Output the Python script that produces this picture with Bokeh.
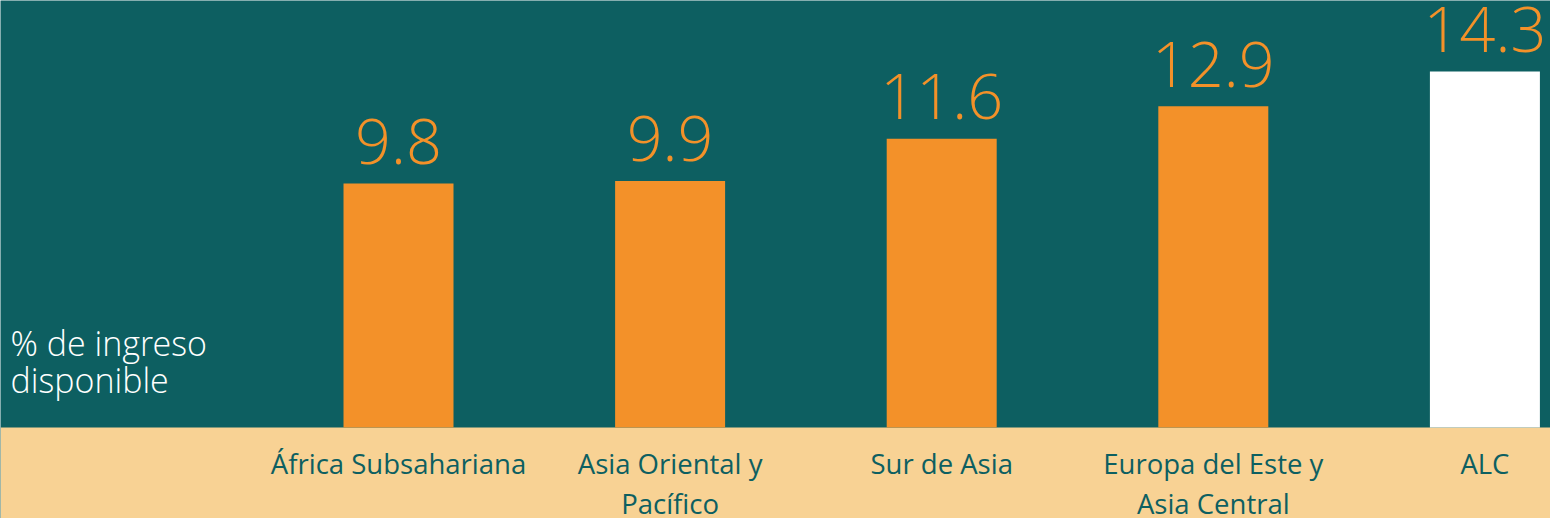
from bokeh.plotting import figure
from bokeh.models import Range1d, BoxAnnotation, ColumnDataSource, Label
from bokeh.embed import file_html
from bokeh.resources import INLINE
from bokeh.core.properties import value

categories = ["África Subsahariana", "Asia Oriental y\nPacífico", "Sur de Asia",
              "Europa del Este y\nAsia Central", "ALC"]
values = [9.8, 9.9, 11.6, 12.9, 14.3]
value_labels = ["9.8", "9.9", "11.6", "12.9", "14.3"]
bar_colors = ["#f39129", "#f39129", "#f39129", "#f39129", "#ffffff"]

TEAL = "#0d5f61"
PEACH = "#f8d294"
ORANGE = "#f39129"

xs = list(range(len(categories)))
src = ColumnDataSource(dict(x=xs, top=values, color=bar_colors, lab=value_labels,
                            cat=categories, cy=[-0.72] * len(xs)))

p = figure(width=1550, height=518, output_backend="svg", toolbar_location=None,
           x_range=Range1d(-1.4654, 4.2415), y_range=Range1d(-3.655, 17.149),
           min_border=0, background_fill_color=TEAL, border_fill_color=TEAL,
           outline_line_color=None)
p.axis.visible = False
p.grid.visible = False

p.add_layout(BoxAnnotation(top=0, fill_color=PEACH, fill_alpha=1, line_color=None,
                           level="underlay"))

p.vbar(x="x", top="top", bottom=0, width=0.405, color="color", line_color=None, source=src)

p.text(x="x", y="top", text="lab", source=src, text_align="center",
       text_baseline="alphabetic", y_offset=-42, text_color=ORANGE,
       text_font=value("Open Sans Light"), text_font_size="63px")

p.text(x="x", y="cy", text="cat", source=src, text_align="center",
       text_baseline="top", text_color=TEAL, text_font=value("Open Sans"),
       text_font_size="27.5px", text_line_height=1.07)

p.add_layout(Label(x=10, y=115, x_units="screen", y_units="screen",
                   text="% de ingreso\ndisponible", text_color="white",
                   text_font="Open Sans Light", text_font_size="34px",
                   text_line_height=0.82, text_baseline="bottom"))

open("out.html", "w").write(file_html(p, INLINE))
